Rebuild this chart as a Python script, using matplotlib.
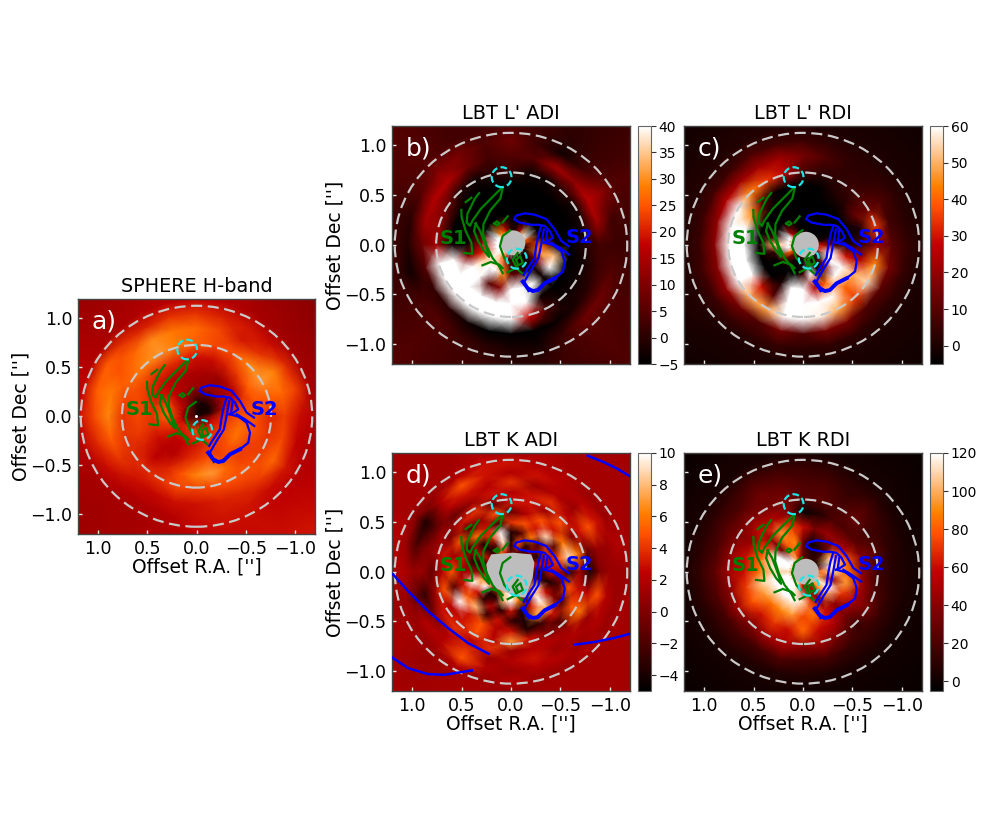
import matplotlib
matplotlib.use('Agg')
import matplotlib.pyplot as plt
import numpy as np
from matplotlib.patches import Circle, Ellipse, Polygon

W, H = 981, 817

# maps are tabulated on polar rows: radius ["], position angle from north through east
radii = [0.0, 0.15, 0.3, 0.45, 0.6, 0.75, 0.9, 1.05, 1.2, 1.7]
k_adi_radii = [0.0, 0.2, 0.3, 0.4, 0.5, 0.6, 0.7, 0.8, 0.9, 1.0, 1.1, 1.2, 1.7]
angles = [0, 15, 30, 45, 60, 75, 90, 105, 120, 135, 150, 165, 180, 195, 210, 225, 240, 255, 270, 285, 300, 315, 330, 345]

sphere_map = [
    [6] * 24,
    [12, 22, 32, 40, 45, 45, 48, 50, 55, 58, 60, 62, 64, 62, 60, 55, 52, 50, 38, 12, 6, 6, 6, 8],
    [40, 42, 46, 50, 58, 68, 70, 62, 56, 50, 50, 52, 54, 58, 62, 62, 64, 62, 60, 52, 44, 40, 38, 40],
    [45, 45, 47, 50, 54, 58, 60, 58, 52, 47, 47, 56, 62, 66, 62, 66, 72, 72, 66, 60, 50, 45, 41, 43],
    [53, 58, 60, 60, 62, 64, 64, 62, 56, 49, 56, 66, 76, 80, 70, 62, 62, 66, 66, 66, 68, 62, 56, 52],
    [68, 74, 79, 76, 70, 64, 60, 60, 58, 58, 60, 64, 62, 64, 66, 66, 62, 60, 58, 68, 80, 76, 66, 64],
    [70, 73, 77, 70, 66, 74, 76, 68, 60, 53, 51, 53, 53, 56, 58, 62, 70, 64, 62, 70, 76, 60, 55, 64],
    [60, 60, 56, 60, 68, 68, 64, 58, 52, 47, 45, 47, 52, 54, 54, 52, 54, 50, 52, 62, 58, 52, 54, 56],
    [50, 48, 46, 44, 46, 50, 52, 48, 44, 43, 43, 46, 50, 52, 52, 50, 48, 46, 46, 44, 42, 42, 44, 48],
    [42, 42, 40, 40, 44, 46, 48, 44, 40, 41, 44, 46, 48, 50, 52, 54, 50, 46, 42, 38, 36, 36, 38, 42],
]
lp_adi_map = [
    [40] * 24,
    [0, 15, 25, 30, 45, 60, 60, 50, 40, 35, 25, 10, 0, 0, -3, -3, -3, 0, 5, 25, 45, 35, 15, 0],
    [-5, -5, -5, -5, -5, 5, 15, 20, 35, 60, 60, 30, 5, 5, -3, -3, 10, 30, 25, -3, -5, -5, -5, -5],
    [-5, -5, -5, -5, -5, -5, -4, 10, 60, 70, 5, 10, 40, 60, 50, -3, 40, 35, -3, -5, -5, -5, -5, -5],
    [-5, -5, -5, -5, -5, -5, -3, 70, 80, 80, 80, 70, 80, 50, -3, -5, -5, -5, -5, -5, -5, -5, -5, -5],
    [2, 0, -3, 0, 8, 12, 14, 70, 70, 70, 80, 70, 45, 18, 3, -3, -3, -3, -1, -2, -3, 0, -3, -3],
    [5, 3, 8, 16, 16, 14, 8, 5, 1, 0, -3, -5, -5, -5, -4, -2, 0, 2, 3, 14, 17, 12, 14, 5],
    [8, 4, 9, 10, 5, 0, -1, -3, 3, 5, 2, 0, -2, -3, 2, 8, 8, 5, 2, 3, 12, 3, -3, 2],
    [4, 3, 3, 5, 4, 2, 3, 2, 3, 4, 3, 2, 0, 0, 3, 5, 4, 3, 2, 3, 5, 2, 0, 2],
    [3, 3, 3, 5, 5, 3, 3, 2, 3, 5, 3, 2, 2, 2, 2, 4, 3, 2, 2, 2, 3, 2, 2, 2],
]
lp_rdi_map = [
    [30] * 24,
    [-5, -3, 10, 25, 60, 80, 80, 70, 40, 15, 0, -3, -3, -3, -3, -3, 0, 30, 30, 0, -5, -5, -5, -5],
    [-5, -5, -5, -5, -5, 5, 50, 5, -4, -5, -5, -5, 5, 70, -3, 15, 70, 70, 10, -3, -5, -5, -5, -5],
    [-5, -5, -5, -5, -5, -5, -4, -5, -5, -5, 0, 60, 70, 25, 40, 80, 60, 30, 0, -5, -5, -5, -5, -5],
    [-5, -5, -3, 12, 45, 62, 70, 70, 62, 30, 10, 70, 75, 75, 60, 40, 50, 25, 5, 0, 12, 2, 0, -5],
    [8, 28, 35, 45, 62, 66, 66, 62, 62, 50, 48, 62, 62, 58, 48, 35, 55, 45, 20, 35, 12, 6, 3, 3],
    [15, 22, 22, 22, 25, 20, 18, 18, 20, 14, 8, 15, 8, 15, 15, 8, 10, 15, 10, 6, 8, 3, 3, 8],
    [5, 6, 8, 5, 6, 5, 5, 6, 5, 4, 3, 4, 2, 3, 3, 2, 3, 4, 4, 2, 3, 2, 2, 3],
    [1, 1, 1, 1, 1, 1, 1, 1, 1, 0, 0, 0, 0, 0, 0, 0, 0, 0, 1, 0, 0, 0, 0, 0],
    [-2] * 24,
]
k_adi_map = [
    [0] * 24,
    [-2, 3, 6, -2, 0, -1, 0, 2, 5, 3, 6, 9, 14, 8, 2, -2, 0, 1, 0, 1, -1, 0, -2, -1],
    [-4, 9, -2, -4, 3, -3, 0, 7, 10, -4, -4, 8, 12, 6, -4, 8, 9, -3, -4, 3, -4, 0, -4, 5],
    [-4, 10, 4, -4, 2, -4, 2, 12, 3, -3, 2, -4, 3, -4, 3, 12, 3, -4, 3, 2, 4, -2, 6, -2],
    [4, -3, 3, 6, -3, 3, 1, 3, 5, 8, -3, 3, -3, -4, 7, 8, 0, -2, 1, 5, -2, 9, 3, 5],
    [-1, 5, 1, -2, 5, 1, 5, -2, 10, 3, 5, 2, 3, -4, -3, 3, -2, 5, -3, 9, 6, 3, 5, 2],
    [3, -1, 4, 3, 0, 3, 2, 5, 2, 3, 5, 2, 7, 3, 0, -2, 5, 3, 1, 6, 0, 5, 1, 3],
    [2, 3, 1, -1, 1, 1, -1, 1, 3, 4, 2, 4, 1, 2, 2, 1, 6, 2, -4, -1, 3, 2, 4, 3],
    [4, 2, 3, 2, -2, 0, 1, -3, 0, 2, 4, 1, 2, 3, 1, 2, 1, 5, 0, 1, 5, 1, 2, 1],
    [2, 3, 5, 2, -4, -2, 1, -1, 2, 2, 5, 2, 1, 2, 2, 1, 2, 2, 1, 1, 3, 2, 2, 3],
    [3, 3, 2, 1, 0, 1, 2, 1, 1, 1, 2, 1, 2, 1, 1, 2, 1, 1, 1, 2, 1, 1, 2, 2],
    [1.5, 2, 1.5, 1.5, 1.5, 2, 1.5, 1, 1.5, 1, 1.5, 1.5, 1, 1.5, 1.5, 1.5, 1.5, 1.5, 1, 1.5, 1.5, 1.5, 1.5, 2],
    [1, 1.5, 1.5, 1.5, 1.5, 1.5, 1.5, 1.5, 1.5, 1.5, 1.5, 1.5, 1.5, 1.5, 1.5, 1.5, 1.5, 1.5, 1.5, 1.5, 1.5, 1.5, 1.5, 1.5],
]
k_rdi_map = [
    [80] * 24,
    [30, 60, 100, 130, 120, 130, 110, 140, 130, 130, 120, 100, 50, 30, 60, 90, 110, 100, 80, 20, 0, 10, 10, 20],
    [30, 90, 80, 30, 120, 130, 110, 130, 130, 120, 130, 120, 110, 70, 30, 100, 120, 40, 110, 130, 100, 20, 5, 0],
    [60, 75, 95, 45, 75, 85, 85, 105, 95, 85, 90, 95, 75, 85, 60, 40, 70, 95, 85, 80, 55, 45, 45, 35],
    [-2, 40, 55, 60, 45, 60, 60, 72, 78, 62, 70, 60, 82, 60, 55, 35, 48, 50, 40, 38, 25, 20, 20, 5],
    [22, 35, 32, 38, 35, 42, 48, 42, 48, 35, 48, 52, 42, 46, 30, 15, 32, 20, 16, 24, 16, 28, 18, 25],
    [20, 26, 30, 20, 22, 20, 25, 22, 18, 18, 16, 22, 16, 18, 13, 13, 13, 10, 8, 10, 13, 20, 13, 20],
    [14, 16, 18, 12, 10, 10, 12, 10, 8, 8, 6, 6, 6, 5, 5, 5, 4, 4, 4, 4, 5, 8, 8, 12],
    [4, 4, 4, 3, 3, 3, 3, 2, 2, 2, 2, 2, 1, 1, 1, 1, 1, 1, 1, 1, 1, 2, 2, 3],
    [-2, -2, -2, -2, -2, -2, -2, -2, -2, -2, -2, -2, -2, -2, -2, -2, -2, -2, -2, -2, -2, -2, -2, -2],
]

# S1 contours, (offset R.A., offset Dec)
s1_a = [(.085, .565), (.109, .463), (.211, .344), (.279, .207), (.282, .105), (.245, -.014), (.187, -.133), (.119, -.218), (.085, -.286)]
s1_b = [(.102, .565), (.204, .463), (.306, .361), (.391, .241), (.415, .190), (.449, .224), (.442, .310), (.367, .463), (.323, .520)]
s1_c = [(.459, .429), (.401, .473)]
s1_d = [(.503, .350), (.5, .276), (.459, .139), (.401, .020), (.391, -.092), (.476, -.082)]
s1_e = [(.357, .214), (.374, .139), (.333, .037), (.272, -.065), (.221, -.122), (.255, -.014), (.313, .139), (.357, .214)]
s1_f = [(.289, -.207), (.204, -.173), (.119, -.201), (.085, -.235)]
s1_g = [(.034, -.276), (-.051, -.235), (-.109, -.286)]
s1_h = [(.007, .146), (.085, .088), (.112, -.014), (.068, -.133), (.027, -.184)]
s1_i = [(.17, .214), (.143, .235), (.115, .214), (.143, .195), (.17, .214)]
s1_j = [(.085, .224), (.034, .286)]
s1_k = [(-.068, -.082), (-.017, -.15), (-.051, -.218), (-.119, -.184), (-.095, -.116), (-.051, -.15), (-.068, -.194)]
s1_lines = [s1_a, s1_b, s1_c, s1_d, s1_e, s1_f, s1_g, s1_h, s1_i, s1_j, s1_k]

# S2 contours
s2_a = [(-.034, .259), (-.051, .293), (-.136, .316), (-.238, .303), (-.357, .259), (-.442, .156), (-.51, .037), (-.585, -.014)]
s2_b = [(-.034, .259), (-.085, .224), (-.204, .201), (-.279, .201), (-.34, .19), (-.391, .139), (-.425, .071), (-.374, .037), (-.333, .02)]
s2_c = [(-.408, .02), (-.493, -.031), (-.588, -.099)]
s2_d = [(-.34, .02), (-.425, -.003), (-.51, -.065), (-.544, -.167), (-.527, -.269), (-.442, -.337)]
s2_e = [(-.442, -.337), (-.34, -.388), (-.272, -.456), (-.221, -.466), (-.17, -.439), (-.119, -.371)]
s2_f = [(-.306, .19), (-.279, .105), (-.255, -.014), (-.238, -.133), (-.17, -.235), (-.129, -.303)]
s2_g = [(-.333, .156), (-.306, .003), (-.279, -.133), (-.204, -.252), (-.136, -.371), (-.177, -.466)]
s2_h = [(-.367, .139), (-.35, .02)]
s2_lines = [s2_a, s2_b, s2_c, s2_d, s2_f, s2_g, s2_h]

# the far contours that only fall in panel d
k_far_lines = [
    [(1.194, -.027), (1.042, -.195), (.84, -.397), (.638, -.566), (.436, -.717), (.227, -.825)],
    [(1.204, -.862), (1.042, -.97), (.84, -1.03), (.672, -1.037), (.503, -1.01), (.396, -.993)],
    [(-.648, -.734), (-.843, -.707), (-1.045, -.667), (-1.197, -.626)],
    [(-.776, 1.168), (-.944, 1.101), (-1.079, 1.034), (-1.197, .966)],
]
k_adi_mask = [(.2, .175), (-.019, .192), (-.204, .175), (-.237, .091), (-.22, -.061), (-.17, -.195), (-.153, -.263),
              (-.052, -.246), (.082, -.195), (.167, -.162), (.234, -.044), (.251, .074)]

cb_ticks_b = [-5, 0, 5, 10, 15, 20, 25, 30, 35, 40]
cb_ticks_c = [0, 10, 20, 30, 40, 50, 60]
cb_ticks_d = [-4, -2, 0, 2, 4, 6, 8, 10]
cb_ticks_e = [0, 20, 40, 60, 80, 100, 120]
axis_ticks = [-1.0, -0.5, 0.0, 0.5, 1.0]

fig = plt.figure(figsize=(W / 100, H / 100), dpi=100)


def px_axes(x0, y0, x1, y1):
    return fig.add_axes([x0 / W, 1 - y1 / H, (x1 - x0) / W, (y1 - y0) / H])


def panel(box, table, vmin, vmax, title, letter, rows=radii, xlabel=False, ylabel=False, cbar=None):
    ax = px_axes(*box)
    pa = np.deg2rad(angles + [360])
    rr, tt = np.meshgrid(rows, pa, indexing='ij')
    vals = np.array(table, dtype=float)
    vals = np.column_stack([vals, vals[:, 0]])
    mesh = ax.pcolormesh(rr * np.sin(tt), rr * np.cos(tt), vals, shading='gouraud',
                         cmap='gist_heat', vmin=vmin, vmax=vmax)
    ax.set_xlim(1.205, -1.205)
    ax.set_ylim(-1.2, 1.195)
    ax.set_xticks(axis_ticks)
    ax.set_yticks(axis_ticks)
    ax.tick_params(labelsize=12.5, length=3, width=1, color='#e8e8e8', direction='in', pad=4)
    for s in ax.spines.values():
        s.set_color('#444444')
        s.set_linewidth(1.0)
    if xlabel:
        ax.set_xlabel("Offset R.A. ['']", fontsize=13.5, labelpad=0)
    else:
        ax.set_xticklabels([])
    if ylabel:
        ax.set_ylabel("Offset Dec ['']", fontsize=13.5, labelpad=0)
    else:
        ax.set_yticklabels([])
    ax.set_title(title, fontsize=13.9, pad=5)
    ax.text(1.07, 0.97, letter, color='white', fontsize=18, ha='left', va='center')
    if cbar is not None:
        cax = px_axes(box[2] + 8, box[1], box[2] + 21, box[3])
        cb = fig.colorbar(mesh, cax=cax, ticks=cbar)
        cb.ax.tick_params(labelsize=10, length=3.5, width=0.8, color='#333333', pad=2)
        cb.outline.set_edgecolor('#666666')
    return ax


def overlays(ax):
    for rx, ry in [(1.177, 1.126), (0.758, 0.727)]:
        ax.add_patch(Ellipse((0, 0), 2 * rx, 2 * ry, fill=False, ec='#c9c9c9', lw=1.6, ls=(0, (5, 2.5)), zorder=4))
    for line in s1_lines:
        pts = np.array(line)
        ax.plot(pts[:, 0], pts[:, 1], color='green', lw=1.6, zorder=5)
    for line in s2_lines:
        pts = np.array(line)
        ax.plot(pts[:, 0], pts[:, 1], color='blue', lw=1.6, zorder=5)
    pts = np.array(s2_e)
    ax.plot(pts[:, 0], pts[:, 1], color='blue', lw=2.8, zorder=5)
    ax.text(0.578, 0.065, 'S1', color='green', fontsize=14, fontweight='bold', ha='center', va='center', zorder=6)
    ax.text(-0.69, 0.07, 'S2', color='blue', fontsize=14, fontweight='bold', ha='center', va='center', zorder=6)
    for c in [(0.095, 0.68), (-0.058, -0.14)]:
        ax.add_patch(Circle(c, 0.1, fill=False, ec='#1fe6e6', lw=1.6, ls=(0, (3, 1.5)), zorder=6))
    ax.set_xlim(1.205, -1.205)
    ax.set_ylim(-1.2, 1.195)


ax_a = panel((78, 299, 315, 534), sphere_map, 0, 100, 'SPHERE H-band', 'a)', xlabel=True, ylabel=True)
ax_b = panel((392, 126, 630, 364), lp_adi_map, -5, 40, "LBT L' ADI", 'b)', ylabel=True, cbar=cb_ticks_b)
ax_c = panel((684, 126, 922, 364), lp_rdi_map, -5, 60, "LBT L' RDI", 'c)', cbar=cb_ticks_c)
ax_d = panel((392, 453, 630, 691), k_adi_map, -5, 10, 'LBT K ADI', 'd)', rows=k_adi_radii, xlabel=True, ylabel=True, cbar=cb_ticks_d)
ax_e = panel((684, 453, 922, 691), k_rdi_map, -5, 120, 'LBT K RDI', 'e)', xlabel=True, cbar=cb_ticks_e)

ax_a.plot([0.005], [0.0], 'o', color='white', ms=1.2, zorder=3)
ax_b.add_patch(Circle((-0.02, 0.02), 0.125, fc='#bdbdbd', ec='none', zorder=3))
ax_c.add_patch(Circle((-0.03, 0.0), 0.13, fc='#bdbdbd', ec='none', zorder=3))
ax_d.add_patch(Polygon(k_adi_mask, fc='#bdbdbd', ec='none', zorder=3))
ax_e.add_patch(Circle((-0.03, 0.0), 0.13, fc='#bdbdbd', ec='none', zorder=3))

for ax in [ax_a, ax_b, ax_c, ax_d, ax_e]:
    overlays(ax)

for line in k_far_lines:
    pts = np.array(line)
    ax_d.plot(pts[:, 0], pts[:, 1], color='blue', lw=1.8, zorder=5)

fig.savefig('out.png', dpi=100)
